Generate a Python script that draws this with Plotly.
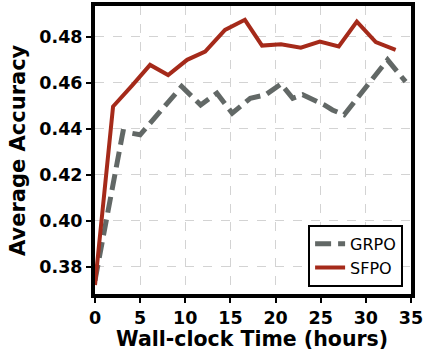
import plotly.graph_objects as go

sfpo_x = [0, 2.0, 4.1, 6.1, 8.1, 10.2, 12.2, 14.4, 16.6, 18.5, 20.6, 22.8, 24.9, 27.0, 29.0, 31.1, 33.3]
sfpo_y = [0.372, 0.4496, 0.4587, 0.4677, 0.4633, 0.4699, 0.4735, 0.4829, 0.4873, 0.4761, 0.4767,
          0.4752, 0.4778, 0.4757, 0.4865, 0.4776, 0.4742]

grpo_x = [0, 3.1, 5.0, 7.3, 9.6, 11.7, 13.5, 15.2, 17.2, 18.9, 20.6, 21.9, 23.0, 25.4, 26.3, 27.6, 30.0, 32.4, 34.4]
grpo_y = [0.374, 0.4387, 0.4373, 0.4478, 0.4583, 0.4503, 0.4554, 0.4467, 0.4532, 0.4547, 0.4594,
          0.4532, 0.4547, 0.4503, 0.4481, 0.4460, 0.4580, 0.4699, 0.4604]

x_ticks = [0, 5, 10, 15, 20, 25, 30, 35]
y_ticks = [0.38, 0.40, 0.42, 0.44, 0.46, 0.48]

FONT = "DejaVu Sans"
W, H = 424, 350
ML, MR, MT, MB = 95, 13, 6, 56
PW, PH = W - ML - MR, H - MT - MB

fig = go.Figure()
fig.add_trace(go.Scatter(x=grpo_x, y=grpo_y, mode="lines", name="GRPO",
                         line=dict(color="#626866", width=5, dash="16px,7px")))
fig.add_trace(go.Scatter(x=sfpo_x, y=sfpo_y, mode="lines", name="SFPO",
                         line=dict(color="#a52a1a", width=4)))

axis_common = dict(
    showline=True, linecolor="black", linewidth=4, mirror=True,
    ticks="outside", ticklen=5, tickwidth=2, tickcolor="black",
    showgrid=True, gridcolor="#d3d3d3", griddash="dash", gridwidth=1,
    zeroline=False, automargin=False,
    tickfont=dict(family=FONT, size=17.5, color="black", weight="bold"),
)

fig.update_xaxes(range=[0, 35], tickvals=x_ticks, ticktext=[str(v) for v in x_ticks], **axis_common)
fig.update_yaxes(range=[0.3681, 0.4933], tickvals=y_ticks, ticktext=[f"{v:.2f}" for v in y_ticks],
                 **axis_common)

fig.add_annotation(text="<b>Wall-clock Time (hours)</b>", xref="paper", yref="paper",
                   x=(252 - ML) / PW, y=(MT + PH - 339) / PH, xanchor="center", yanchor="middle",
                   showarrow=False, font=dict(family=FONT, size=20.5, color="black"))
fig.add_annotation(text="<b>Average Accuracy</b>", xref="paper", yref="paper",
                   x=(18 - ML) / PW, y=0.5, xanchor="center", yanchor="middle", textangle=-90,
                   showarrow=False, font=dict(family=FONT, size=21, color="black"))

fig.update_layout(
    width=W, height=H,
    margin=dict(l=ML, r=MR, t=MT, b=MB),
    paper_bgcolor="white", plot_bgcolor="white",
    showlegend=True,
    legend=dict(x=0.975, y=0.025, xanchor="right", yanchor="bottom",
                bgcolor="white", bordercolor="black", borderwidth=2,
                font=dict(family=FONT, size=16, color="black")),
)

fig.write_html("out.html")
